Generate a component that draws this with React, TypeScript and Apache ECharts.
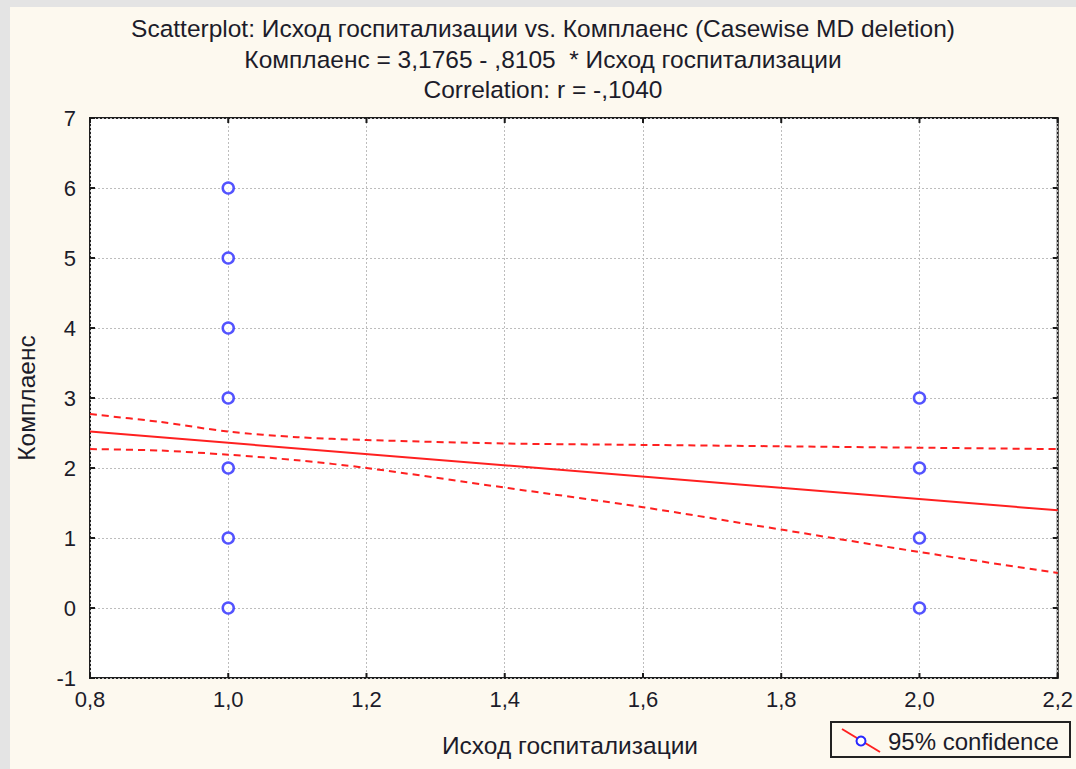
import React, { useEffect, useRef } from "react";
import * as echarts from "echarts";

const titleLines = [
  "Scatterplot: Исход госпитализации vs. Комплаенс (Casewise MD deletion)",
  "Комплаенс = 3,1765 - ,8105  * Исход госпитализации",
  "Correlation: r = -,1040",
];
const xName = "Исход госпитализации";
const yName = "Комплаенс";
const legendLabel = "95% confidence";

// tick values
const xTicks = [0.8, 1.0, 1.2, 1.4, 1.6, 1.8, 2.0, 2.2];
const yTicks = [-1, 0, 1, 2, 3, 4, 5, 6, 7];

// observations
const outcome = [1, 1, 1, 1, 1, 1, 1, 2, 2, 2, 2];
const compliance = [0, 1, 2, 3, 4, 5, 6, 0, 1, 2, 3];

// regression line (ends of the fitted line, as drawn)
const regX = [0.8, 2.2];
const regY = [2.52, 1.395];

// 95% confidence band
const bandX = [0.8, 0.9, 1.0, 1.1, 1.2, 1.4, 1.6, 1.8, 2.0, 2.2];
const bandUpper = [2.77, 2.66, 2.52, 2.44, 2.4, 2.35, 2.33, 2.31, 2.29, 2.27];
const bandLower = [2.27, 2.25, 2.19, 2.11, 2.0, 1.72, 1.44, 1.12, 0.8, 0.5];

const FONT = "'Liberation Sans', Arial, sans-serif";
const TEXT = "#1c1c2a";
const TICK = 5;

export default function App() {
  const ref = useRef<HTMLDivElement>(null);
  useEffect(() => {
    document.body.style.margin = "0";
    const chart = echarts.init(ref.current!, null, { renderer: "svg" });
    const fmt = (v: number) => v.toFixed(1).replace(".", ",");
    const gridLine = { show: true, lineStyle: { color: "#bdbdbd", type: [2, 2], width: 1 } };
    const tickStyle = { stroke: "#1a1a1a", lineWidth: 2 };
    const xMin = xTicks[0];
    const xMax = xTicks[xTicks.length - 1];
    const yMin = yTicks[0];
    const yMax = yTicks[yTicks.length - 1];
    chart.setOption({
      animation: false,
      backgroundColor: "#e4e4e4",
      grid: {
        left: 90,
        top: 118,
        right: 18,
        bottom: 91,
        show: true,
        backgroundColor: "#ffffff",
        borderColor: "#1e1e1e",
        borderWidth: 2,
      },
      xAxis: {
        type: "value",
        min: xMin,
        max: xMax,
        interval: 0.2,
        axisLine: { show: false, onZero: false },
        axisTick: { show: false },
        axisLabel: { formatter: fmt, fontSize: 22, fontFamily: FONT, color: TEXT, margin: 10 },
        splitLine: gridLine,
      },
      yAxis: {
        type: "value",
        min: yMin,
        max: yMax,
        interval: 1,
        axisLine: { show: false, onZero: false },
        axisTick: { show: false },
        axisLabel: { fontSize: 22, fontFamily: FONT, color: TEXT, margin: 14 },
        splitLine: gridLine,
      },
      series: [
        {
          type: "line",
          data: regX.map((x, i) => [x, regY[i]]),
          showSymbol: false,
          lineStyle: { color: "#ff2020", width: 2 },
          z: 3,
        },
        {
          type: "line",
          data: bandX.map((x, i) => [x, bandUpper[i]]),
          showSymbol: false,
          smooth: 0.3,
          lineStyle: { color: "#ff2020", width: 2, type: [7, 5] },
          z: 3,
        },
        {
          type: "line",
          data: bandX.map((x, i) => [x, bandLower[i]]),
          showSymbol: false,
          smooth: 0.3,
          lineStyle: { color: "#ff2020", width: 2, type: [7, 5] },
          z: 3,
        },
        {
          type: "scatter",
          data: outcome.map((x, i) => [x, compliance[i]]),
          symbol: "circle",
          symbolSize: 11,
          itemStyle: { color: "#ffffff", borderColor: "#2828ff", borderWidth: 2.5 },
          z: 4,
        },
        {
          type: "custom",
          data: xTicks.map((v) => [v]),
          encode: { x: 0 },
          silent: true,
          z: 5,
          renderItem: (params: any, api: any) => {
            const v = api.value(0);
            const b = api.coord([v, yMin]);
            const t = api.coord([v, yMax]);
            return {
              type: "group",
              children: [
                { type: "line", shape: { x1: b[0], y1: b[1], x2: b[0], y2: b[1] - TICK }, style: tickStyle },
                { type: "line", shape: { x1: t[0], y1: t[1], x2: t[0], y2: t[1] + TICK }, style: tickStyle },
              ],
            };
          },
        },
        {
          type: "custom",
          data: yTicks.map((v) => [xMin, v]),
          encode: { x: 0, y: 1 },
          silent: true,
          z: 5,
          renderItem: (params: any, api: any) => {
            const v = api.value(1);
            const l = api.coord([xMin, v]);
            const r = api.coord([xMax, v]);
            return {
              type: "group",
              children: [
                { type: "line", shape: { x1: l[0], y1: l[1], x2: l[0] + TICK, y2: l[1] }, style: tickStyle },
                { type: "line", shape: { x1: r[0], y1: r[1], x2: r[0] - TICK, y2: r[1] }, style: tickStyle },
              ],
            };
          },
        },
      ],
      graphic: [
        {
          type: "rect",
          shape: { x: 10, y: 7, width: 1066, height: 762 },
          style: { fill: "#fdf9ef" },
          z: -10,
          silent: true,
        },
        ...titleLines.map((t, i) => ({
          type: "text",
          x: 543,
          y: [28, 59, 89][i],
          style: {
            text: t,
            fontSize: 24.5,
            fontFamily: FONT,
            fill: TEXT,
            align: "center",
            verticalAlign: "middle",
          },
        })),
        {
          type: "text",
          x: 570,
          y: 745,
          style: {
            text: xName,
            fontSize: 24.5,
            fontFamily: FONT,
            fill: TEXT,
            align: "center",
            verticalAlign: "middle",
          },
        },
        {
          type: "text",
          x: 26,
          y: 398,
          rotation: Math.PI / 2,
          style: {
            text: yName,
            fontSize: 24.5,
            fontFamily: FONT,
            fill: TEXT,
            align: "center",
            verticalAlign: "middle",
          },
        },
        {
          type: "group",
          children: [
            {
              type: "rect",
              shape: { x: 831, y: 722, width: 239, height: 35 },
              style: { fill: "#fdf9ef", stroke: "#222", lineWidth: 2 },
            },
            {
              type: "line",
              shape: { x1: 842, y1: 729, x2: 880, y2: 752 },
              style: { stroke: "#ff2020", lineWidth: 2 },
            },
            {
              type: "circle",
              shape: { cx: 861, cy: 741, r: 4.5 },
              style: { fill: "#ffffff", stroke: "#2828ff", lineWidth: 2 },
            },
            {
              type: "text",
              x: 888,
              y: 741,
              style: {
                text: legendLabel,
                fontSize: 24,
                fontFamily: FONT,
                fill: TEXT,
                align: "left",
                verticalAlign: "middle",
              },
            },
          ],
        },
      ],
    });
    return () => chart.dispose();
  }, []);
  return <div ref={ref} style={{ width: 1076, height: 769 }} />;
}
